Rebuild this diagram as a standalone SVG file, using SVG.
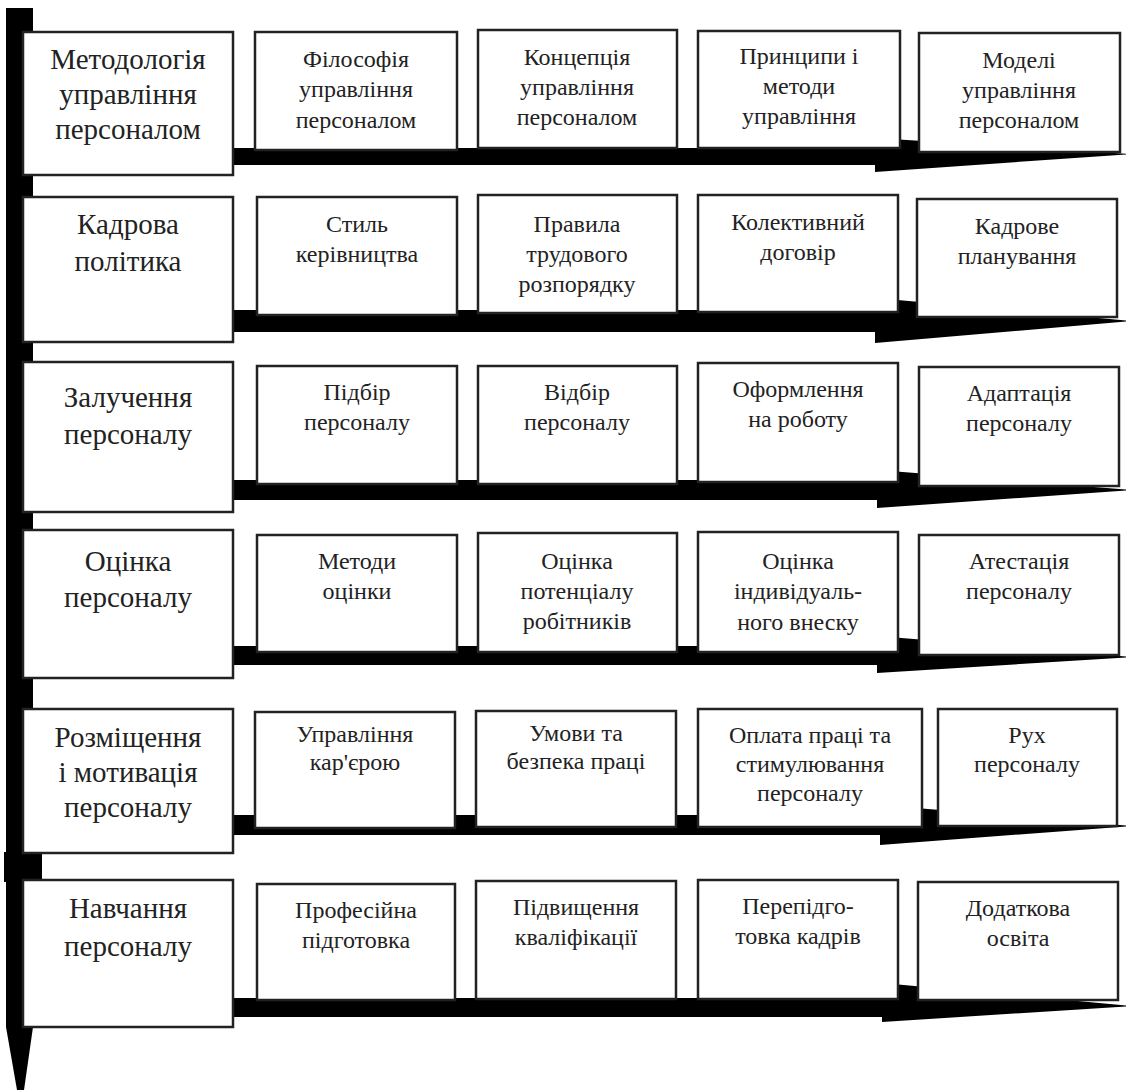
<svg xmlns="http://www.w3.org/2000/svg" width="1126" height="1090" viewBox="0 0 1126 1090">
<style>
.bg{fill:#fff}
.bar{fill:#000}
.box{fill:#fff;stroke:#222;stroke-width:2.5}
.big{font-family:"Liberation Serif","Times New Roman",serif;font-size:29px;fill:#222;text-anchor:middle}
.sm{font-family:"Liberation Serif","Times New Roman",serif;font-size:24px;fill:#222;text-anchor:middle}
</style>
<rect class="bg" x="0" y="0" width="1126" height="1090"/>
<g id="connectors">
  <polygon class="bar" points="6,8 33,8 33,1027 24,1090 17,1090 6,1027"/>
  <rect class="bar" x="4" y="852" width="38" height="30"/>
  <polygon class="bar" points="225,148 875,148 875,138 1132,154 875,172 875,165 225,165"/>
  <polygon class="bar" points="225,310 875,310 875,298 1132,321 875,343 875,332 225,332"/>
  <polygon class="bar" points="225,480 877,480 877,470 1132,490 877,508 877,500 225,500"/>
  <polygon class="bar" points="225,646 877,646 877,636 1132,657 877,673 877,665 225,665"/>
  <polygon class="bar" points="225,815 880,815 880,805 1132,826 880,845 880,835 225,835"/>
  <polygon class="bar" points="225,998 882,998 882,983 1132,1006 882,1022 882,1017 225,1017"/>
</g>
<g id="row1">
  <g id="n-metodologia"><rect class="box" x="23" y="32" width="210" height="143"/><text class="big" x="128"><tspan x="128" y="69">Методологія</tspan><tspan x="128" y="104">управління</tspan><tspan x="128" y="139">персоналом</tspan></text></g>
  <g id="n-filosofia"><rect class="box" x="255" y="32" width="202" height="118"/><text class="sm"><tspan x="356" y="67">Філософія</tspan><tspan x="356" y="97">управління</tspan><tspan x="356" y="128">персоналом</tspan></text></g>
  <g id="n-kontseptsia"><rect class="box" x="478" y="30" width="199" height="118"/><text class="sm"><tspan x="577" y="65">Концепція</tspan><tspan x="577" y="95">управління</tspan><tspan x="577" y="125">персоналом</tspan></text></g>
  <g id="n-pryntsypy"><rect class="box" x="698" y="31" width="202" height="117"/><text class="sm"><tspan x="799" y="64">Принципи і</tspan><tspan x="799" y="94">методи</tspan><tspan x="799" y="124">управління</tspan></text></g>
  <g id="n-modeli"><rect class="box" x="919" y="33" width="201" height="119"/><text class="sm"><tspan x="1019" y="68">Моделі</tspan><tspan x="1019" y="98">управління</tspan><tspan x="1019" y="128">персоналом</tspan></text></g>
</g>
<g id="row2">
  <g id="n-kadrova"><rect class="box" x="23" y="197" width="210" height="145"/><text class="big"><tspan x="128" y="234">Кадрова</tspan><tspan x="128" y="271">політика</tspan></text></g>
  <g id="n-styl"><rect class="box" x="257" y="197" width="200" height="118"/><text class="sm"><tspan x="357" y="232">Стиль</tspan><tspan x="357" y="262">керівництва</tspan></text></g>
  <g id="n-pravyla"><rect class="box" x="478" y="195" width="199" height="118"/><text class="sm"><tspan x="577" y="232">Правила</tspan><tspan x="577" y="262">трудового</tspan><tspan x="577" y="292">розпорядку</tspan></text></g>
  <g id="n-kolektyvnyi"><rect class="box" x="698" y="195" width="200" height="117"/><text class="sm"><tspan x="798" y="230">Колективний</tspan><tspan x="798" y="260">договір</tspan></text></g>
  <g id="n-kadrove"><rect class="box" x="917" y="199" width="200" height="118"/><text class="sm"><tspan x="1017" y="234">Кадрове</tspan><tspan x="1017" y="264">планування</tspan></text></g>
</g>
<g id="row3">
  <g id="n-zaluchennia"><rect class="box" x="23" y="362" width="210" height="150"/><text class="big"><tspan x="128" y="407">Залучення</tspan><tspan x="128" y="444">персоналу</tspan></text></g>
  <g id="n-pidbir"><rect class="box" x="257" y="366" width="200" height="118"/><text class="sm"><tspan x="357" y="400">Підбір</tspan><tspan x="357" y="430">персоналу</tspan></text></g>
  <g id="n-vidbir"><rect class="box" x="478" y="366" width="199" height="118"/><text class="sm"><tspan x="577" y="400">Відбір</tspan><tspan x="577" y="430">персоналу</tspan></text></g>
  <g id="n-oformlennia"><rect class="box" x="698" y="363" width="200" height="119"/><text class="sm"><tspan x="798" y="397">Оформлення</tspan><tspan x="798" y="427">на роботу</tspan></text></g>
  <g id="n-adaptatsia"><rect class="box" x="919" y="367" width="200" height="119"/><text class="sm"><tspan x="1019" y="401">Адаптація</tspan><tspan x="1019" y="431">персоналу</tspan></text></g>
</g>
<g id="row4">
  <g id="n-otsinka"><rect class="box" x="23" y="530" width="210" height="148"/><text class="big"><tspan x="128" y="571">Оцінка</tspan><tspan x="128" y="607">персоналу</tspan></text></g>
  <g id="n-metody"><rect class="box" x="257" y="535" width="200" height="117"/><text class="sm"><tspan x="357" y="569">Методи</tspan><tspan x="357" y="599">оцінки</tspan></text></g>
  <g id="n-potentsial"><rect class="box" x="478" y="533" width="199" height="119"/><text class="sm"><tspan x="577" y="569">Оцінка</tspan><tspan x="577" y="599">потенціалу</tspan><tspan x="577" y="629">робітників</tspan></text></g>
  <g id="n-vnesok"><rect class="box" x="698" y="532" width="200" height="120"/><text class="sm"><tspan x="798" y="569">Оцінка</tspan><tspan x="798" y="599">індивідуаль-</tspan><tspan x="798" y="630">ного внеску</tspan></text></g>
  <g id="n-atestatsia"><rect class="box" x="919" y="535" width="200" height="120"/><text class="sm"><tspan x="1019" y="569">Атестація</tspan><tspan x="1019" y="599">персоналу</tspan></text></g>
</g>
<g id="row5">
  <g id="n-rozmishchennia"><rect class="box" x="23" y="709" width="210" height="144"/><text class="big"><tspan x="128" y="747">Розміщення</tspan><tspan x="128" y="782">і мотивація</tspan><tspan x="128" y="817">персоналу</tspan></text></g>
  <g id="n-kariera"><rect class="box" x="255" y="712" width="200" height="116"/><text class="sm"><tspan x="355" y="742">Управління</tspan><tspan x="355" y="770">кар'єрою</tspan></text></g>
  <g id="n-umovy"><rect class="box" x="476" y="711" width="200" height="116"/><text class="sm"><tspan x="576" y="741">Умови та</tspan><tspan x="576" y="769">безпека праці</tspan></text></g>
  <g id="n-oplata"><rect class="box" x="698" y="709" width="224" height="118"/><text class="sm"><tspan x="810" y="743">Оплата праці та</tspan><tspan x="810" y="772">стимулювання</tspan><tspan x="810" y="801">персоналу</tspan></text></g>
  <g id="n-rukh"><rect class="box" x="938" y="709" width="179" height="117"/><text class="sm"><tspan x="1027" y="743">Рух</tspan><tspan x="1027" y="772">персоналу</tspan></text></g>
</g>
<g id="row6">
  <g id="n-navchannia"><rect class="box" x="23" y="880" width="210" height="147"/><text class="big"><tspan x="128" y="918">Навчання</tspan><tspan x="128" y="956">персоналу</tspan></text></g>
  <g id="n-profesiina"><rect class="box" x="257" y="884" width="198" height="116"/><text class="sm"><tspan x="356" y="918">Професійна</tspan><tspan x="356" y="948">підготовка</tspan></text></g>
  <g id="n-pidvyshchennia"><rect class="box" x="476" y="881" width="200" height="118"/><text class="sm"><tspan x="576" y="915">Підвищення</tspan><tspan x="576" y="945">кваліфікації</tspan></text></g>
  <g id="n-perepidhotovka"><rect class="box" x="698" y="880" width="200" height="119"/><text class="sm"><tspan x="798" y="914">Перепідго-</tspan><tspan x="798" y="944">товка кадрів</tspan></text></g>
  <g id="n-dodatkova"><rect class="box" x="918" y="882" width="200" height="118"/><text class="sm"><tspan x="1018" y="916">Додаткова</tspan><tspan x="1018" y="946">освіта</tspan></text></g>
</g>
</svg>
